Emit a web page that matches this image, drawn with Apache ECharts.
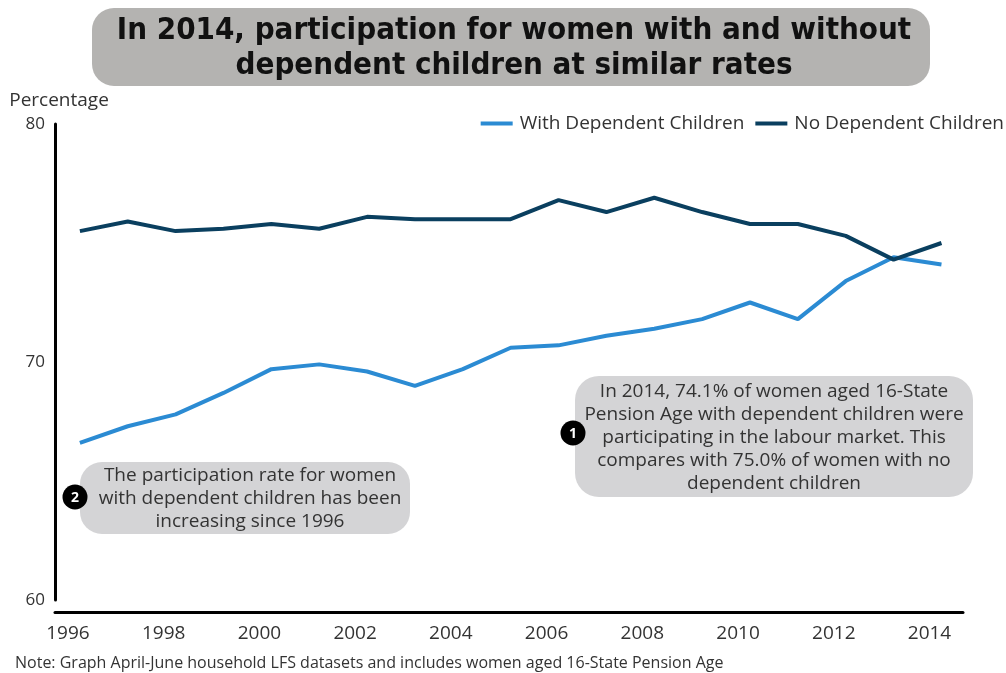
<!DOCTYPE html>
<html>
<head>
<meta charset="utf-8">
<script src="https://cdn.jsdelivr.net/npm/echarts@6/dist/echarts.min.js"></script>
<style>
html,body{margin:0;padding:0;background:#fff;}
#chart{width:1006px;height:673px;}
</style>
</head>
<body>
<div id="chart"></div>
<script>
// ---- data ----
var years = [1996,1997,1998,1999,2000,2001,2002,2003,2004,2005,2006,2007,2008,2009,2010,2011,2012,2013,2014];
var withDependent = [66.6,67.3,67.8,68.7,69.7,69.9,69.6,69.0,69.7,70.6,70.7,71.1,71.4,71.8,72.5,71.8,73.4,74.4,74.1];
var noDependent   = [75.5,75.9,75.5,75.6,75.8,75.6,76.1,76.0,76.0,76.0,76.8,76.3,76.9,76.3,75.8,75.8,75.3,74.3,75.0];
var xTickLabels = [1996,1998,2000,2002,2004,2006,2008,2010,2012,2014];
var yTicks = [60,70,80];
var seriesNames = ['With Dependent Children','No Dependent Children'];
// April-June survey quarter: points sit at the start of Q2 of each year
var quarterOffset = 0.25;

var titleText = 'In 2014, participation for women with and without\ndependent children at similar rates';
var note1 = 'In 2014, 74.1% of women aged 16-State\nPension Age with dependent children were\nparticipating in the labour market. This\ncompares with 75.0% of women with no\ndependent children';
var note2 = 'The participation rate for women\nwith dependent children has been\nincreasing since 1996';
var footNote = 'Note: Graph April-June household LFS datasets and includes women aged 16-State Pension Age';

function pairs(vals){ return years.map(function(y,i){ return [y + quarterOffset, vals[i]]; }); }

var FONT = '"Open Sans", sans-serif';
var chart = echarts.init(document.getElementById('chart'), null, {renderer:'canvas'});
chart.setOption({
  animation:false,
  backgroundColor:'#ffffff',
  title:{
    text:titleText,
    left:509, top:8, z:20, padding:5, textAlign:'center',
    textStyle:{fontFamily:'"DejaVu Sans Condensed", sans-serif', fontWeight:'bold', fontSize:31, lineHeight:35, color:'#111', align:'center'}
  },
  legend:{
    right:-3, top:109,
    icon:'rect', itemWidth:32, itemHeight:4, itemGap:11,
    textStyle:{fontFamily:FONT, fontSize:19, color:'#333', padding:[0,0,0,2]},
    data:seriesNames
  },
  grid:{left:55, right:43, top:124, bottom:73, containLabel:false},
  xAxis:{
    type:'value', min:1995.73, max:2014.70, offset:12,
    splitLine:{show:false},
    axisLine:{show:true, lineStyle:{color:'#000', width:3}},
    axisTick:{show:false},
    axisLabel:{customValues:xTickLabels, fontFamily:FONT, fontSize:19, color:'#333', margin:12, formatter:function(v){return String(Math.round(v));}}
  },
  yAxis:{
    type:'value', min:60, max:80, interval:10,
    name:'Percentage', nameLocation:'end', nameGap:14,
    nameTextStyle:{fontFamily:FONT, fontSize:19, color:'#333', align:'center', padding:[0,0,0,8]},
    splitLine:{show:false},
    axisLine:{show:true, lineStyle:{color:'#000', width:3}},
    axisTick:{show:false},
    axisLabel:{customValues:yTicks, fontFamily:FONT, fontSize:17, color:'#333', margin:10}
  },
  series:[
    {name:seriesNames[0], type:'line', data:pairs(withDependent), showSymbol:false, symbol:'none', lineStyle:{color:'#2b8bd3', width:4}, itemStyle:{color:'#2b8bd3'}, z:3},
    {name:seriesNames[1], type:'line', data:pairs(noDependent), showSymbol:false, symbol:'none', lineStyle:{color:'#0a3f5f', width:4}, itemStyle:{color:'#0a3f5f'}, z:4}
  ],
  graphic:[
    {type:'rect', z:1, shape:{x:92, y:8, width:838, height:78, r:22}, style:{fill:'#b4b3b1'}},
    {type:'rect', z:1, shape:{x:575, y:376, width:398, height:121, r:24}, style:{fill:'#d4d4d6'}},
    {type:'text', z:5, style:{text:note1, x:774, y:438, align:'center', verticalAlign:'middle', fontFamily:FONT, fontSize:19, lineHeight:23, fill:'#333'}},
    {type:'circle', z:5, shape:{cx:573, cy:433, r:12.5}, style:{fill:'#000'}},
    {type:'text', z:6, style:{text:'1', x:573, y:434, align:'center', verticalAlign:'middle', fontFamily:FONT, fontWeight:'bold', fontSize:14, fill:'#fff'}},
    {type:'rect', z:1, shape:{x:80, y:462, width:330, height:72, r:22}, style:{fill:'#d4d4d6'}},
    {type:'text', z:5, style:{text:note2, x:250, y:499, align:'center', verticalAlign:'middle', fontFamily:FONT, fontSize:19, lineHeight:23, fill:'#333'}},
    {type:'circle', z:5, shape:{cx:75, cy:497, r:12.5}, style:{fill:'#000'}},
    {type:'text', z:6, style:{text:'2', x:75, y:498, align:'center', verticalAlign:'middle', fontFamily:FONT, fontWeight:'bold', fontSize:14, fill:'#fff'}},
    {type:'text', z:5, style:{text:footNote, x:15, y:663, align:'left', verticalAlign:'middle', fontFamily:FONT, fontSize:16, fill:'#333'}}
  ]
});
</script>
</body>
</html>
